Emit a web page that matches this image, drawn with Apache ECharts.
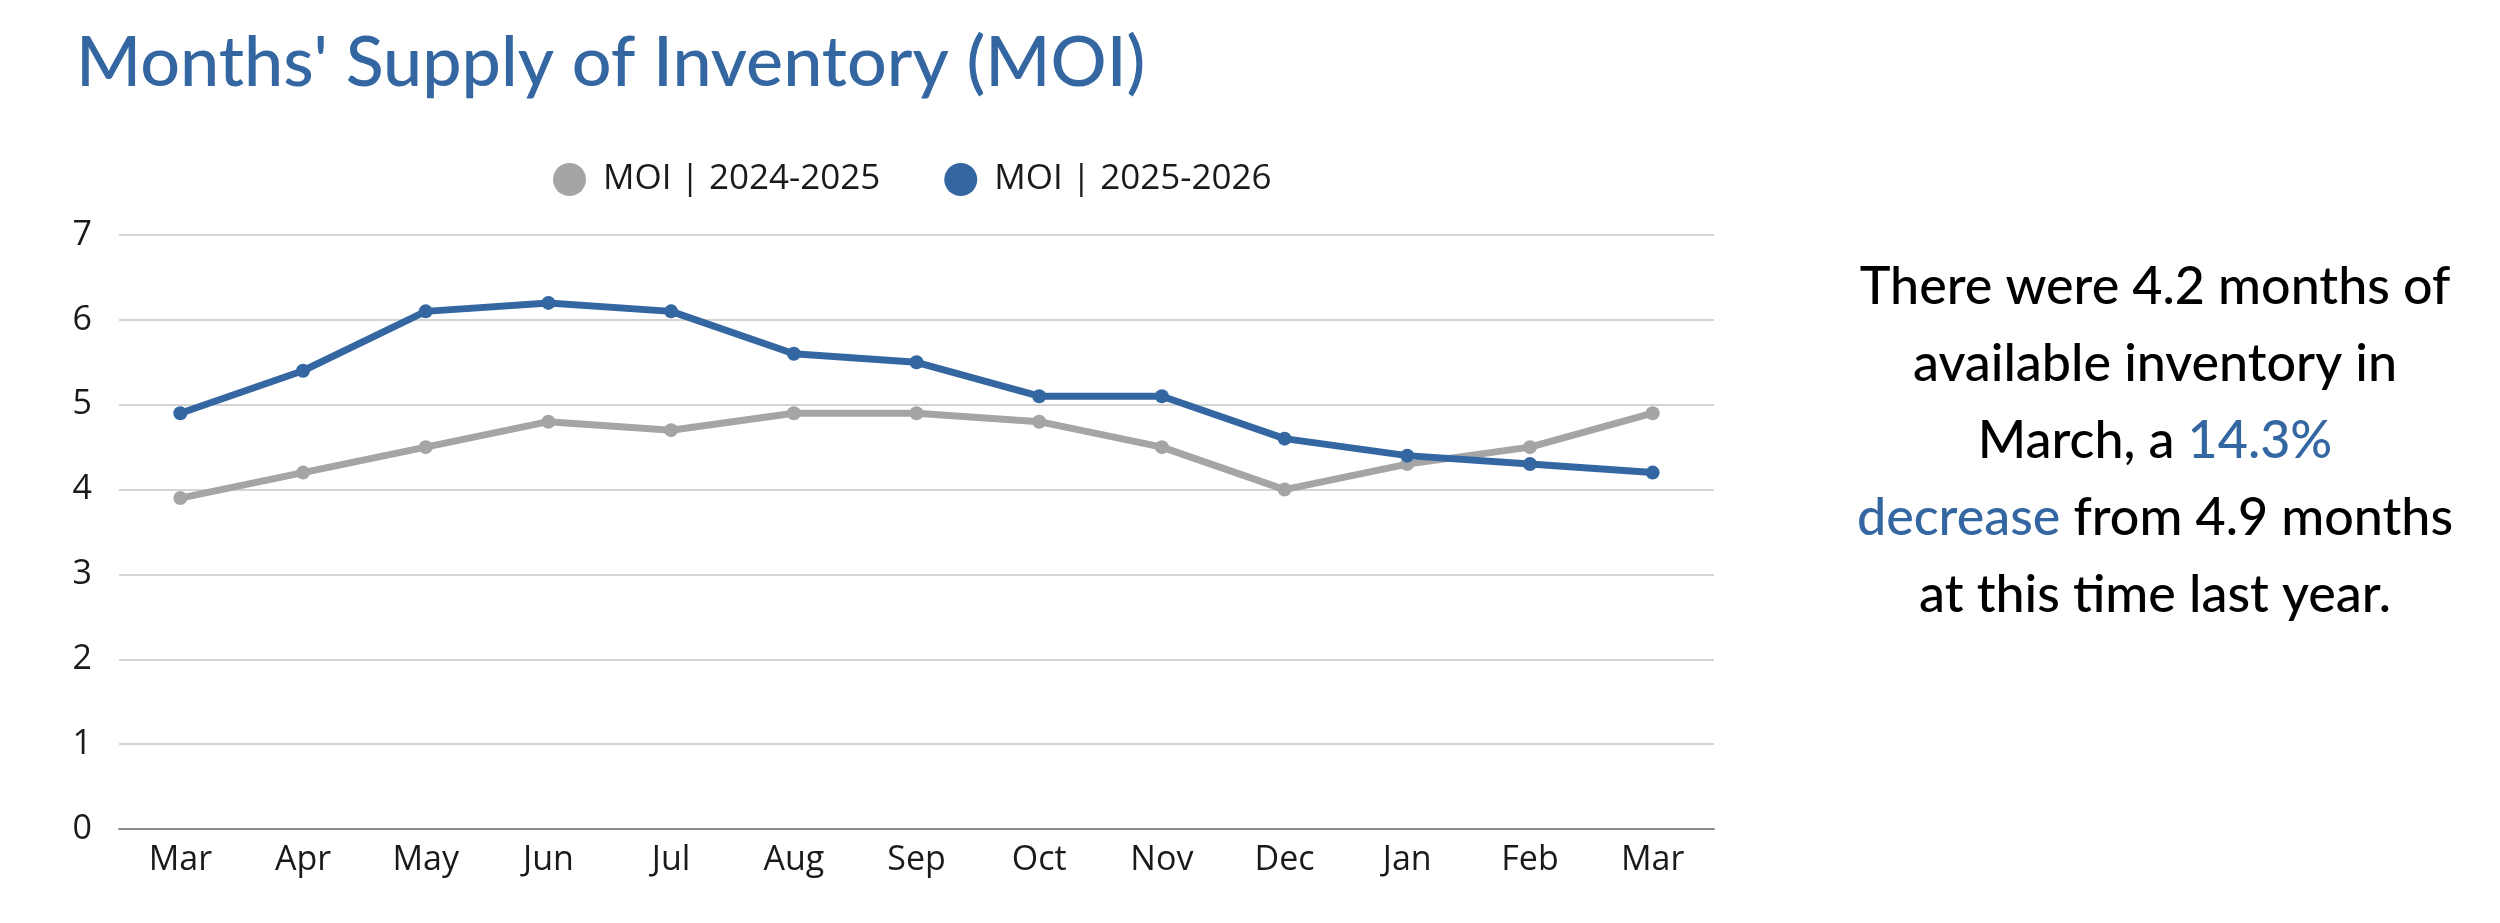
<!DOCTYPE html>
<html>
<head>
<meta charset="utf-8">
<script src="https://cdn.jsdelivr.net/npm/echarts@6/dist/echarts.min.js"></script>
<style>
html,body{margin:0;padding:0;background:#fff;}
#chart{width:2500px;height:923px;}
</style>
</head>
<body>
<div id="chart"></div>
<script>
const titleText = "Months' Supply of Inventory (MOI)";
const categories = ['Mar','Apr','May','Jun','Jul','Aug','Sep','Oct','Nov','Dec','Jan','Feb','Mar'];
const seriesNames = ['MOI | 2024-2025', 'MOI | 2025-2026'];
const moi2024 = [3.9, 4.2, 4.5, 4.8, 4.7, 4.9, 4.9, 4.8, 4.5, 4.0, 4.3, 4.5, 4.9];
const moi2025 = [4.9, 5.4, 6.1, 6.2, 6.1, 5.6, 5.5, 5.1, 5.1, 4.6, 4.4, 4.3, 4.2];
const yTicks = { min: 0, max: 7, interval: 1 };
const noteLines = [
  'There were 4.2 months of',
  'available inventory in',
  'March, a {b|14.3%}',
  '{b|decrease} from 4.9 months',
  'at this time last year.'
];

const BLUE = '#3467A1';
const GRAY = '#A5A5A5';
const AXIS_FONT = '"Open Sans", Roboto, sans-serif';
const HEAD_FONT = 'Lato, "Open Sans", sans-serif';

const chart = echarts.init(document.getElementById('chart'), null, {renderer: 'canvas'});
chart.setOption({
  backgroundColor: '#ffffff',
  animation: false,
  legend: {
    left: 548, top: 157,
    itemWidth: 33, itemHeight: 33, itemGap: 64,
    icon: 'circle',
    textStyle: { fontFamily: AXIS_FONT, fontSize: 35, color: '#1a1a1a', padding: [0,0,0,12] },
    data: seriesNames
  },
  grid: { left: 119, right: 786, top: 235, bottom: 94, containLabel: false },
  xAxis: {
    type: 'category',
    data: categories,
    boundaryGap: true,
    axisLine: { lineStyle: { color: '#8c8c8c', width: 2 } },
    axisTick: { show: false },
    axisLabel: { fontFamily: AXIS_FONT, fontSize: 34, color: '#1a1a1a', margin: 14, interval: 0 },
    splitLine: { show: false }
  },
  yAxis: {
    type: 'value',
    min: yTicks.min, max: yTicks.max, interval: yTicks.interval,
    axisLine: { show: false },
    axisTick: { show: false },
    axisLabel: { fontFamily: AXIS_FONT, fontSize: 34, color: '#1a1a1a', margin: 27 },
    splitLine: { lineStyle: { color: '#d4d4d4', width: 2 } }
  },
  series: [
    {
      name: seriesNames[0], type: 'line', data: moi2024,
      color: GRAY,
      lineStyle: { width: 7, color: GRAY },
      itemStyle: { color: GRAY },
      symbol: 'circle', symbolSize: 14, z: 2
    },
    {
      name: seriesNames[1], type: 'line', data: moi2025,
      color: BLUE,
      lineStyle: { width: 7, color: BLUE },
      itemStyle: { color: BLUE },
      symbol: 'circle', symbolSize: 14, z: 3
    }
  ],
  graphic: [
    {
      type: 'text', left: 76, top: 28,
      style: { text: titleText, fill: BLUE, font: '500 70px ' + HEAD_FONT }
    },
    {
      type: 'text', x: 2155, y: 441,
      style: {
        text: noteLines.join('\n'),
        fill: '#000',
        font: '500 52px ' + HEAD_FONT,
        align: 'center', verticalAlign: 'middle',
        lineHeight: 77,
        rich: {
          b: { fill: BLUE, font: '500 52px ' + HEAD_FONT, lineHeight: 77 }
        }
      }
    }
  ]
});
</script>
</body>
</html>
